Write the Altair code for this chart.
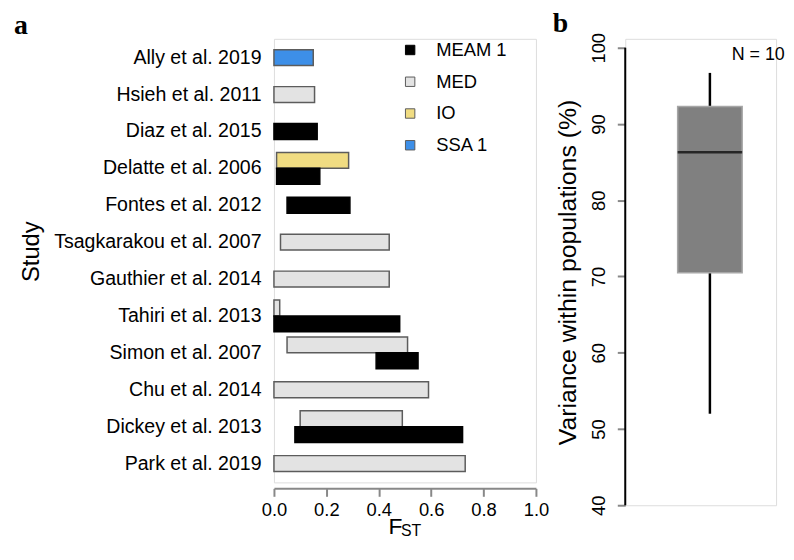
import altair as alt
import pandas as pd

# ---------------- data ----------------
studies = [
    "Ally et al. 2019", "Hsieh et al. 2011", "Diaz et al. 2015", "Delatte et al. 2006",
    "Fontes et al. 2012", "Tsagkarakou et al. 2007", "Gauthier et al. 2014",
    "Tahiri et al. 2013", "Simon et al. 2007", "Chu et al. 2014", "Dickey et al. 2013",
    "Park et al. 2019",
]
bar_study = [
    "Ally et al. 2019", "Hsieh et al. 2011", "Diaz et al. 2015", "Delatte et al. 2006",
    "Delatte et al. 2006", "Fontes et al. 2012", "Tsagkarakou et al. 2007",
    "Gauthier et al. 2014", "Tahiri et al. 2013", "Tahiri et al. 2013", "Simon et al. 2007",
    "Simon et al. 2007", "Chu et al. 2014", "Dickey et al. 2013", "Dickey et al. 2013",
    "Park et al. 2019",
]
bar_clade = ["SSA 1", "MED", "MEAM 1", "IO", "MEAM 1", "MEAM 1", "MED", "MED",
             "MED", "MEAM 1", "MED", "MEAM 1", "MED", "MED", "MEAM 1", "MED"]
bar_low = [0.00, 0.00, 0.00, 0.01, 0.01, 0.05, 0.025, 0.00,
           0.00, 0.00, 0.05, 0.39, 0.00, 0.10, 0.08, 0.00]
bar_high = [0.15, 0.155, 0.165, 0.285, 0.175, 0.29, 0.44, 0.44,
            0.022, 0.48, 0.51, 0.55, 0.59, 0.49, 0.72, 0.73]

clades = ["MEAM 1", "MED", "IO", "SSA 1"]
clade_fill = ["#000000", "#E3E3E3", "#F0DC82", "#3D8FE8"]
clade_stroke = ["#000000", "#5c5c5c", "#5c5c5c", "#5c5c5c"]

fst_ticks = [0.0, 0.2, 0.4, 0.6, 0.8, 1.0]

# box plot summary (variance within populations, %)
box_group = ["all"]
var_whisker_low = [52.0]
var_q1 = [70.5]
var_median = [86.3]
var_q3 = [92.3]
var_whisker_high = [96.7]
var_ticks = [40, 50, 60, 70, 80, 90, 100]
n_label = ["N = 10"]

# ---------------- tables ----------------
counts = {s: bar_study.count(s) for s in studies}
seen = {}
slots = []
for s in bar_study:
    k = seen.get(s, 0)
    seen[s] = k + 1
    slots.append("single" if counts[s] == 1 else ("a_top" if k == 0 else "b_bottom"))

bars = pd.DataFrame({"study": bar_study, "clade": bar_clade,
                     "low": bar_low, "high": bar_high, "slot": slots})

FONT = "Liberation Sans"
SERIF = "Liberation Serif"

x_enc = alt.X("low:Q", scale=alt.Scale(domain=[0, 1], nice=False, zero=False),
              axis=alt.Axis(values=fst_ticks, format=".1f", title="F", grid=False,
                            labelFontSize=18.5, labelFlush=False, tickSize=8, tickWidth=2,
                            domainWidth=2, labelPadding=4, offset=6, titleFontSize=23,
                            titleFontWeight="normal", titleAlign="left", titleX=115,
                            titleY=45, titleBaseline="alphabetic"))
y_enc = alt.Y("study:N", sort=studies,
              scale=alt.Scale(domain=studies, paddingInner=0.139, paddingOuter=0.08),
              axis=alt.Axis(title="Study", ticks=False, domain=False, labelFontSize=19.7,
                            labelPadding=13, titleFontSize=24, titleFontWeight="normal",
                            titleAngle=270, titleBaseline="bottom", titleAlign="center",
                            titleX=-232, titleY=214, labelLimit=400))
color_enc = alt.Color("clade:N", scale=alt.Scale(domain=clades, range=clade_fill),
                      legend=alt.Legend(orient="none", legendX=128, legendY=2, title=None,
                                        symbolType="square", symbolSize=90,
                                        symbolStrokeColor="#333333", symbolStrokeWidth=1,
                                        labelFontSize=18.5, labelOffset=17, rowPadding=13,
                                        labelFont=FONT, labelColor="black"))
stroke_enc = alt.Stroke("clade:N", scale=alt.Scale(domain=clades, range=clade_stroke),
                        legend=None)

base = alt.Chart(bars)
single = base.transform_filter(alt.datum.slot == "single").mark_bar(
    size=16, strokeWidth=1.5).encode(x=x_enc, x2="high:Q", y=y_enc,
                                     color=color_enc, stroke=stroke_enc)
pair = base.transform_filter(alt.datum.slot != "single").mark_bar(
    strokeWidth=1.5).encode(
    x=x_enc, x2="high:Q", y=y_enc,
    yOffset=alt.YOffset("slot:N", scale=alt.Scale(paddingInner=0, paddingOuter=0)),
    color=color_enc, stroke=stroke_enc)
sub_st = alt.Chart(pd.DataFrame({"t": ["ST"]})).mark_text(
    align="left", baseline="alphabetic", fontSize=16, font=FONT, color="black"
).encode(text="t:N", x=alt.value(128), y=alt.value(501))

left = alt.layer(single, pair, sub_st).properties(
    width=264, height=447,
    title=alt.TitleParams("a", anchor="start", fontSize=28, font=SERIF,
                          fontWeight="bold", offset=-1, dx=-6, color="black"))

# ---------------- right panel ----------------
box = pd.DataFrame({"grp": box_group, "lo": var_whisker_low, "q1": var_q1,
                    "med": var_median, "q3": var_q3, "hi": var_whisker_high})
axis_span = pd.DataFrame({"lo": [min(var_ticks)], "hi": [max(var_ticks)]})
bx = alt.X("grp:N", axis=None,
           scale=alt.Scale(paddingInner=0, paddingOuter=0.5, align=0.6226))
yscale = alt.Scale(domain=[40, 101.17], nice=False, zero=False)
yaxis = alt.Axis(values=var_ticks, title="Variance within populations (%)", grid=False,
                 domain=False, labelAngle=-90, labelAlign="center", labelBaseline="bottom",
                 labelFontSize=18.5, labelFlush=False, tickSize=8, tickWidth=2,
                 labelPadding=9, titleFontSize=25, titleFontWeight="normal",
                 titlePadding=9)
rb = alt.Chart(box)
w_lo = rb.mark_rule(strokeWidth=2.5, color="black").encode(
    x=bx, y=alt.Y("lo:Q", scale=yscale, axis=yaxis), y2="q1:Q")
w_hi = rb.mark_rule(strokeWidth=2.5, color="black").encode(
    x=bx, y=alt.Y("q3:Q", scale=yscale, axis=yaxis), y2="hi:Q")
body = rb.mark_bar(size=65, color="#808080", stroke="#a6a6a6", strokeWidth=1.5).encode(
    x=bx, y=alt.Y("q1:Q", scale=yscale, axis=yaxis), y2="q3:Q")
med = rb.mark_tick(size=65, thickness=2.5, color="black", orient="horizontal").encode(
    x=bx, y=alt.Y("med:Q", scale=yscale, axis=yaxis))
spine = alt.Chart(axis_span).mark_rule(strokeWidth=2, color="black").encode(
    x=alt.value(0), y=alt.Y("lo:Q", scale=yscale, axis=yaxis), y2="hi:Q")
ntxt = alt.Chart(pd.DataFrame({"t": n_label})).mark_text(
    align="center", baseline="alphabetic", fontSize=18, font=FONT, color="black"
).encode(text="t:N", x=alt.value(134), y=alt.value(21))

right = alt.layer(w_lo, w_hi, body, med, spine, ntxt).properties(
    width=152, height=470,
    title=alt.TitleParams("b", anchor="start", fontSize=28, font=SERIF,
                          fontWeight="bold", offset=-6, dx=-3, color="black"))

chart = alt.hconcat(left, right, spacing=2).properties(
    padding={"left": 5, "top": 0, "right": 0, "bottom": 0}
).configure_view(
    strokeWidth=0, stroke="transparent").configure_axis(
    labelFont=FONT, titleFont=FONT, labelColor="black", titleColor="black",
    domainColor="black", tickColor="black").configure(background="white")

chart.save("out.html", embed_options={"renderer": "svg", "actions": False})
